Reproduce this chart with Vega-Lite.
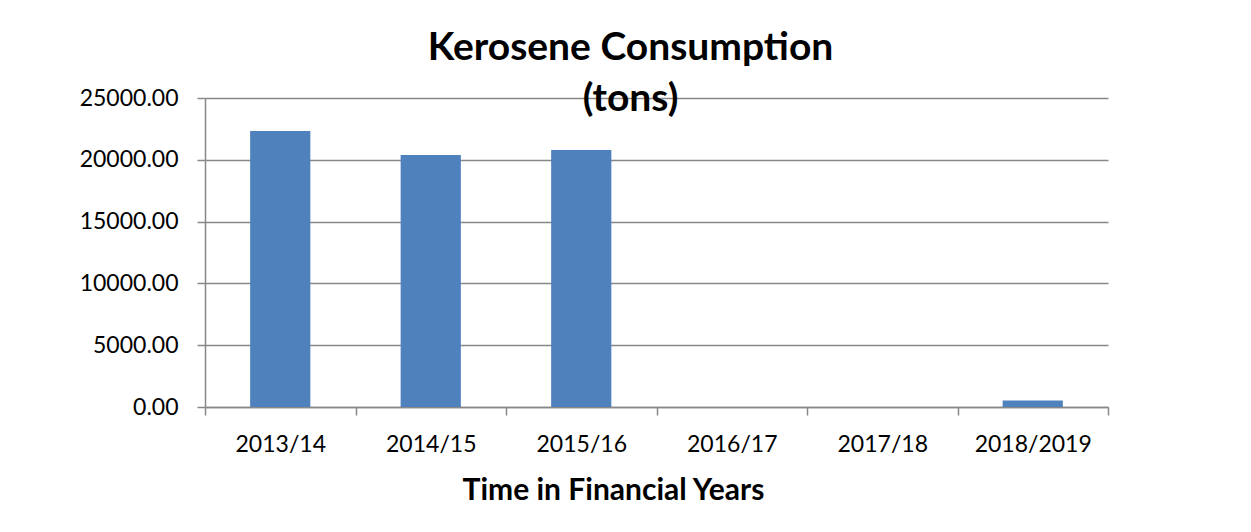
{
  "$schema": "https://vega.github.io/schema/vega-lite/v6.json",
  "width": 903,
  "height": 309,
  "autosize": {"type": "none"},
  "padding": {"left": 205, "top": 98, "right": 143, "bottom": 125},
  "background": "white",
  "title": {
    "text": ["Kerosene Consumption", "(tons)"],
    "font": "Lato",
    "fontSize": 39,
    "fontWeight": "bold",
    "color": "black",
    "anchor": "middle",
    "frame": "group",
    "dx": -26,
    "lineHeight": 51,
    "offset": -32
  },
  "data": {
    "values": [
      {"year": "2013/14", "tons": 22330},
      {"year": "2014/15", "tons": 20380},
      {"year": "2015/16", "tons": 20790},
      {"year": "2016/17", "tons": 0},
      {"year": "2017/18", "tons": 0},
      {"year": "2018/2019", "tons": 530}
    ]
  },
  "mark": {"type": "bar", "color": "#4F81BD", "width": {"band": 0.4}},
  "encoding": {
    "x": {
      "field": "year",
      "type": "nominal",
      "sort": null,
      "scale": {"paddingInner": 0, "paddingOuter": 0},
      "axis": {
        "title": "Time in Financial Years",
        "titleFont": "Lato",
        "titleFontSize": 30,
        "titleFontWeight": "bold",
        "titleColor": "black",
        "titleX": 408,
        "titleY": 92,
        "titleBaseline": "alphabetic",
        "labelAngle": 0,
        "labelFont": "Lato",
        "labelFontSize": 23,
        "labelColor": "black",
        "labelPadding": 18,
        "tickBand": "extent",
        "tickSize": 8,
        "tickColor": "#888888",
        "tickWidth": 1.5,
        "domainColor": "#888888",
        "domainWidth": 1.5,
        "grid": false
      }
    },
    "y": {
      "field": "tons",
      "type": "quantitative",
      "scale": {"domain": [0, 25000], "nice": false},
      "axis": {
        "title": null,
        "values": [0, 5000, 10000, 15000, 20000, 25000],
        "format": ".2f",
        "labelFont": "Lato",
        "labelFontSize": 23,
        "labelColor": "black",
        "labelPadding": 19,
        "tickSize": 8,
        "tickColor": "#888888",
        "tickWidth": 1.5,
        "domainColor": "#888888",
        "domainWidth": 1.5,
        "grid": true,
        "gridColor": "#888888",
        "gridWidth": 1.5
      }
    }
  },
  "config": {"view": {"stroke": null}}
}
